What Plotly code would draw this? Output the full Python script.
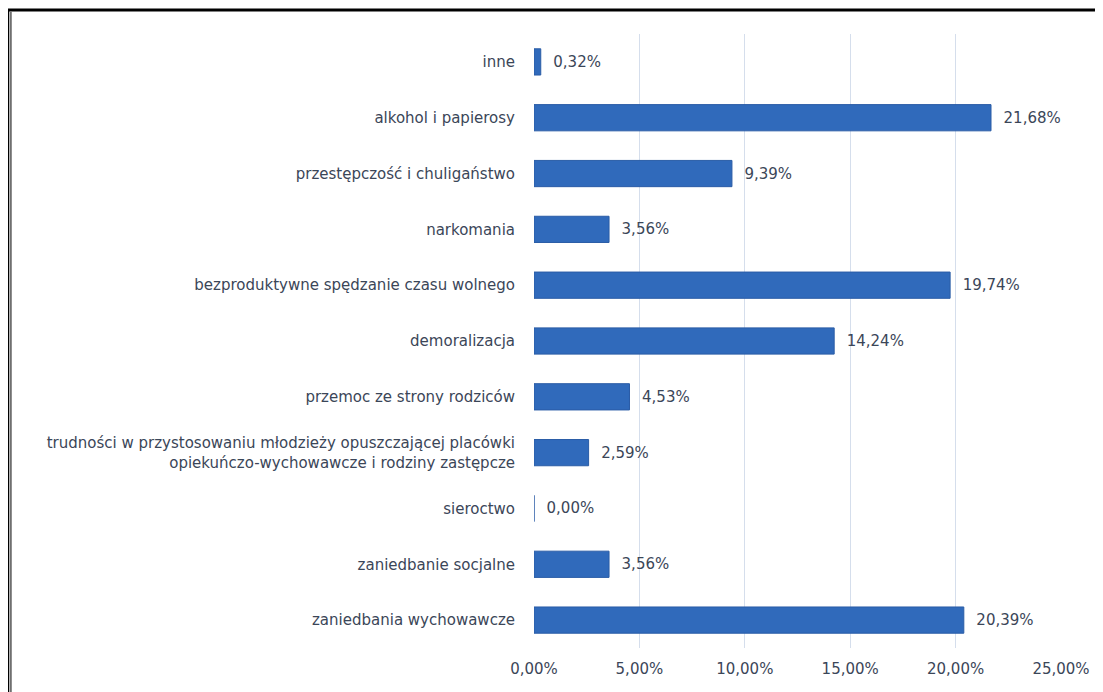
import plotly.graph_objects as go

categories = [
    "inne",
    "alkohol i papierosy",
    "przestępczość i chuligaństwo",
    "narkomania",
    "bezproduktywne spędzanie czasu wolnego",
    "demoralizacja",
    "przemoc ze strony rodziców",
    "trudności w przystosowaniu młodzieży opuszczającej placówki<br>opiekuńczo-wychowawcze i rodziny zastępcze",
    "sieroctwo",
    "zaniedbanie socjalne",
    "zaniedbania wychowawcze",
]
values = [0.32, 21.68, 9.39, 3.56, 19.74, 14.24, 4.53, 2.59, 0.00, 3.56, 20.39]
x_ticks = [0, 5, 10, 15, 20, 25]
x_tick_labels = ["0,00%", "5,00%", "10,00%", "15,00%", "20,00%", "25,00%"]

label_font = dict(family="DejaVu Sans", size=15, color="#3b4658")

fig = go.Figure(
    go.Bar(
        x=values,
        y=categories,
        orientation="h",
        marker=dict(color="#306abb", line=dict(color="#2a5ca6", width=1)),
        text=["\u00a0\u00a0" + f"{v:.2f}".replace(".", ",") + "%" for v in values],
        textposition="outside",
        textfont=label_font,
        cliponaxis=False,
        hoverinfo="skip",
    )
)

fig.update_layout(
    width=1095,
    height=684,
    margin=dict(l=526, r=42, t=26, b=44),
    paper_bgcolor="white",
    plot_bgcolor="white",
    bargap=0.53,
    showlegend=False,
    xaxis=dict(
        range=[0, 25],
        tickvals=x_ticks,
        ticktext=x_tick_labels,
        showgrid=True,
        gridcolor="#d5deec",
        gridwidth=1,
        zeroline=False,
        showline=False,
        ticks="",
        tickfont=label_font,
        ticklabelstandoff=10,
        fixedrange=True,
    ),
    yaxis=dict(
        autorange="reversed",
        showgrid=False,
        showline=False,
        ticks="",
        tickfont=label_font,
        ticklabelstandoff=18,
        fixedrange=True,
    ),
    shapes=[
        # frame: top line
        dict(type="line", xref="paper", yref="paper", x0=-1.0, x1=1.2, y0=1.039, y1=1.039,
             line=dict(color="black", width=3)),
        # frame: left thick line
        dict(type="line", xref="paper", yref="paper", x0=-0.9985, x1=-0.9985, y0=-0.1, y1=1.04,
             line=dict(color="black", width=3)),
        # frame: left thin inner line
        dict(type="line", xref="paper", yref="paper", x0=-0.9925, x1=-0.9925, y0=-0.1, y1=1.036,
             line=dict(color="black", width=1)),
    ],
)

fig.write_html("out.html")
